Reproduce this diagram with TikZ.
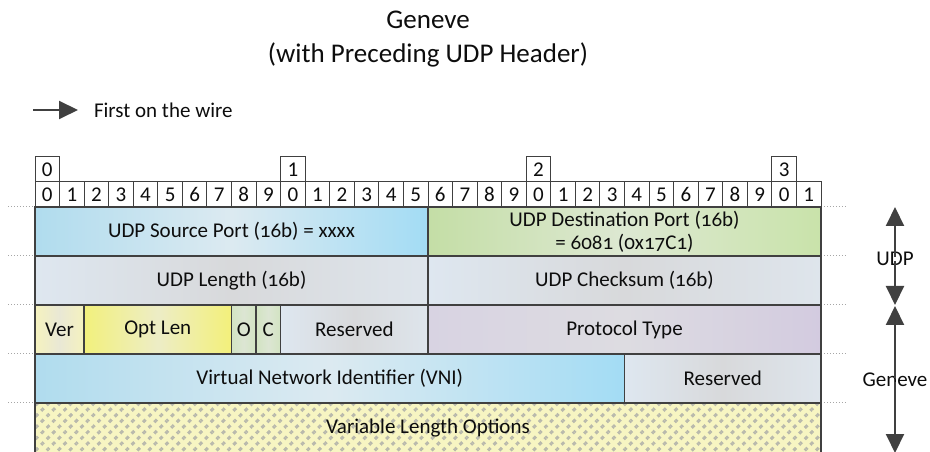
\documentclass[tikz,border=0pt]{standalone}
\usepackage{fontspec}
\setmainfont{Carlito}
\newfontfamily\oldnum[Numbers=OldStyle]{Carlito}
\usepackage{xcolor}
\usetikzlibrary{arrows.meta,patterns.meta}

\definecolor{linegray}{HTML}{404040}
\definecolor{txt}{HTML}{0D0D0D}
\definecolor{blueA}{HTML}{B0DCEE}
\definecolor{blueB}{HTML}{DCEAF1}
\definecolor{blueC}{HTML}{A3DCF4}
\definecolor{greenA}{HTML}{C4DEA6}
\definecolor{greenB}{HTML}{DDE8D2}
\definecolor{greenC}{HTML}{C9E3AA}
\definecolor{grayA}{HTML}{DEE7F0}
\definecolor{grayB}{HTML}{D8D9DB}
\definecolor{grayC}{HTML}{DEE5EC}
\definecolor{yellowA}{HTML}{F2F07C}
\definecolor{yellowB}{HTML}{EDEDC6}
\definecolor{yellowC}{HTML}{F3F07A}
\definecolor{verA}{HTML}{F5F2BE}
\definecolor{verB}{HTML}{E9E8D5}
\definecolor{ocA}{HTML}{D2E4C2}
\definecolor{ocB}{HTML}{DCE5D3}
\definecolor{lavA}{HTML}{D8D3E2}
\definecolor{lavB}{HTML}{DDDCE1}
\definecolor{lavC}{HTML}{D3CBE0}
\definecolor{hatchbg}{HTML}{F7F5C2}
\definecolor{hatchline}{HTML}{B8B8AC}

\begin{document}
\begin{tikzpicture}[x=1bp, y=-1bp,
  every node/.style={text=txt, inner sep=0pt, outer sep=0pt},
  field/.style={draw=linegray, line width=1.5bp, minimum height=49bp, align=center, font=\oldnum\fontsize{21bp}{23bp}\selectfont},
  bitbox/.style={draw=linegray, line width=1bp, fill=white, minimum width=24.5625bp, minimum height=25bp, font=\fontsize{21bp}{22bp}\selectfont},
  lbl/.style={font=\fontsize{21bp}{24bp}\selectfont},
  title/.style={font=\fontsize{27bp}{30bp}\selectfont},
  warrow/.style={-{Triangle[width=18bp,length=19bp]}, line width=2bp, draw=linegray},
  dots/.style={draw=gray!70, line width=1bp, dotted},
]

\useasboundingbox (0,0) rectangle (930,452);

\node[title] (ttl) at (428,20) {Geneve};
\node[title] (sub) at (428,55) {(with Preceding UDP Header)};

\coordinate (wire) at (33,110);
\node[lbl, anchor=west] (first) at (94,110) {First on the wire};

% bit ruler
\foreach \i/\n in {0/0,10/1,20/2,30/3}
  \node[bitbox] (m\n) at ({35+(\i+0.5)*24.5625},169.5) {\n};
\foreach \i [evaluate=\i as \d using {int(mod(\i,10))}] in {0,...,31}
  \node[bitbox] (b\i) at ({35+(\i+0.5)*24.5625},194.5) {\d};

% header fields
\node[field, minimum width=393bp, left color=blueA, right color=blueC, middle color=blueB] (src) at (231.5,231.5) {UDP Source Port (16b) = xxxx};
\node[field, minimum width=393bp, left color=greenA, right color=greenC, middle color=greenB] (dst) at (624.5,231.5) {UDP Destination Port (16b)\\= 6081 (0x17C1)};

\node[field, minimum width=393bp, left color=grayA, right color=grayC, middle color=grayB] (len) at (231.5,280.5) {UDP Length (16b)};
\node[field, minimum width=393bp, left color=grayA, right color=grayC, middle color=grayB] (csum) at (624.5,280.5) {UDP Checksum (16b)};

\node[field, minimum width=49.125bp, left color=verA, right color=verA, middle color=verB] (ver) at (59.56,329.5) {Ver};
\node[field, minimum width=147.375bp, left color=yellowA, right color=yellowC, middle color=yellowB] (optlen) at (157.81,329.5) {Opt Len};
\node[field, minimum width=24.5625bp, left color=ocA, right color=ocA, middle color=ocB] (obit) at (243.78,329.5) {O};
\node[field, minimum width=24.5625bp, left color=ocA, right color=ocA, middle color=ocB] (cbit) at (268.34,329.5) {C};
\node[field, minimum width=147.375bp, left color=grayA, right color=grayC, middle color=grayB] (rsv1) at (354.31,329.5) {Reserved};
\node[field, minimum width=393bp, left color=lavA, right color=lavC, middle color=lavB] (ptype) at (624.5,329.5) {Protocol Type};

\node[field, minimum width=589.5bp, left color=blueA, right color=blueC, middle color=blueB] (vni) at (329.75,378.5) {Virtual Network Identifier (VNI)};
\node[field, minimum width=196.5bp, left color=grayA, right color=grayC, middle color=grayB] (rsv2) at (722.75,378.5) {Reserved};

\node[field, minimum width=786bp, minimum height=50bp, draw=none,
  preaction={fill=hatchbg},
  pattern={Lines[angle=45,distance=8bp,line width=3bp]}, pattern color=hatchline,
  postaction={pattern={Lines[angle=-45,distance=8bp,line width=4bp]}, pattern color=hatchbg},
  postaction={draw=linegray, line width=1.5bp}] (opts) at (428,428) {Variable Length Options};

% row guides
\foreach \y in {207,256,305,354,403} {
  \draw[dots] (8,\y) -- (32,\y);
  \draw[dots] (824,\y) -- (846,\y);
}

% layer labels
\node[lbl] (udp) at (895,259) {UDP};
\node[lbl] (gen) at (895,380) {Geneve};
\coordinate (udptop) at (895,207);
\coordinate (udpbot) at (895,305);
\coordinate (gentop) at (895,306);
\coordinate (genbot) at (895,453);

\draw[warrow, shorten >=16bp] (wire) -- (first.west);
\draw[warrow] ([yshift=-5bp]udp.north) -- (udptop);
\draw[warrow] ([yshift=5bp]udp.south) -- (udpbot);
\draw[warrow] ([yshift=-5bp]gen.north) -- (gentop);
\draw[warrow] ([yshift=5bp]gen.south) -- (genbot);

\end{tikzpicture}
\end{document}
